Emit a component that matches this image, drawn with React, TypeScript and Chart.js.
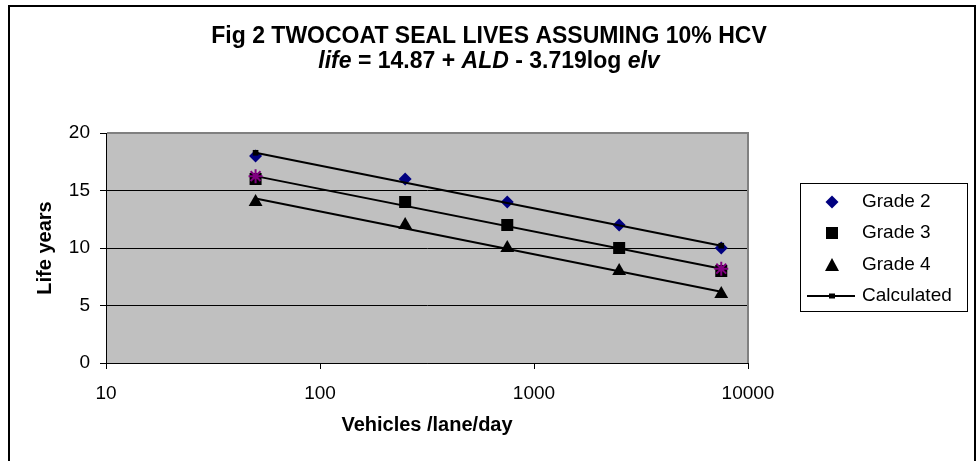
import React, { useEffect, useRef } from 'react';
import { Chart, registerables } from 'chart.js';

Chart.register(...registerables);

// ---- data ----
const vehicles = [50, 250, 750, 2500, 7500];
const grade2Life = [18, 16, 14, 12, 10];
const grade3Life = [16, 14, 12, 10, 8];
const grade4Life = [14, 12, 10, 8, 6];
const calcVehicles = [50, 7500];
const calcGrade2 = [18.28, 10.2];
const calcGrade3 = [16.25, 8.2];
const calcGrade4 = [14.3, 6.2];
const xTickValues = [10, 100, 1000, 10000];
const yTickValues = [0, 5, 10, 15, 20];
const seriesLabels = ['Grade 2', 'Grade 3', 'Grade 4', 'Calculated'];
const titleLine1 = 'Fig 2 TWOCOAT SEAL LIVES ASSUMING 10% HCV';
const titleLine2 = [
  { text: 'life', italic: true },
  { text: ' = 14.87 + ', italic: false },
  { text: 'ALD', italic: true },
  { text: ' - 3.719log ', italic: false },
  { text: 'elv', italic: true },
];
const xTitle = 'Vehicles /lane/day';
const yTitle = 'Life years';

const FONT = '"Liberation Sans", Arial, sans-serif';

const pts = (xs: number[], ys: number[]) => xs.map((x, i) => ({ x, y: ys[i] }));

const framePlugin = {
  id: 'frame',
  beforeDraw(chart: any) {
    const { ctx, chartArea: a } = chart;
    ctx.save();
    ctx.fillStyle = '#ffffff';
    ctx.fillRect(0, 0, chart.width, chart.height);
    ctx.fillStyle = '#C0C0C0';
    ctx.fillRect(a.left, a.top, a.right - a.left, a.bottom - a.top);
    ctx.restore();
  },
  beforeDatasetsDraw(chart: any) {
    const { ctx, chartArea: a } = chart;
    ctx.save();
    ctx.strokeStyle = '#808080';
    ctx.lineWidth = 2;
    ctx.beginPath();
    ctx.moveTo(a.left + 1, a.top);
    ctx.lineTo(a.right, a.top);
    ctx.lineTo(a.right, a.bottom);
    ctx.stroke();
    ctx.restore();
  },
  afterDraw(chart: any) {
    const { ctx } = chart;
    ctx.save();
    // outer border
    ctx.strokeStyle = '#000';
    ctx.lineWidth = 2;
    ctx.strokeRect(9, 6, 966, 480);

    // title
    ctx.fillStyle = '#000';
    ctx.textBaseline = 'middle';
    ctx.textAlign = 'left';
    const cx = chart.width / 2;
    ctx.font = `bold 23px ${FONT}`;
    const w1 = ctx.measureText(titleLine1).width;
    ctx.fillText(titleLine1, cx - w1 / 2, 37);
    const fontFor = (it: boolean) => `${it ? 'italic ' : ''}bold 23px ${FONT}`;
    let total = 0;
    for (const s of titleLine2) {
      ctx.font = fontFor(s.italic);
      total += ctx.measureText(s.text).width;
    }
    let x = cx - total / 2;
    for (const s of titleLine2) {
      ctx.font = fontFor(s.italic);
      ctx.fillText(s.text, x, 62);
      x += ctx.measureText(s.text).width;
    }

    // legend
    ctx.lineWidth = 1;
    ctx.strokeStyle = '#000';
    ctx.fillStyle = '#fff';
    ctx.fillRect(800.5, 183.5, 167, 128);
    ctx.strokeRect(800.5, 183.5, 167, 128);
    const rows = [202, 233, 265, 296];
    const mx = 832;
    ctx.font = `19px ${FONT}`;
    const legendSets = chart.data.datasets.filter((d: any) => d.inLegend);
    legendSets.forEach((d: any, i: number) => {
      const y = rows[i];
      ctx.fillStyle = d.backgroundColor;
      ctx.strokeStyle = d.borderColor;
      ctx.beginPath();
      if (d.pointStyle === 'rectRot') {
        ctx.moveTo(mx, y - 6.5);
        ctx.lineTo(mx + 6.5, y);
        ctx.lineTo(mx, y + 6.5);
        ctx.lineTo(mx - 6.5, y);
        ctx.closePath();
        ctx.fill();
      } else if (d.pointStyle === 'rect' && !d.showLine) {
        ctx.fillRect(mx - 6, y - 6, 12, 12);
      } else if (d.pointStyle === 'triangle') {
        ctx.moveTo(mx, y - 7);
        ctx.lineTo(mx + 7, y + 6);
        ctx.lineTo(mx - 7, y + 6);
        ctx.closePath();
        ctx.fill();
      } else {
        ctx.lineWidth = 2;
        ctx.moveTo(807, y);
        ctx.lineTo(855, y);
        ctx.stroke();
        ctx.fillStyle = '#000';
        ctx.fillRect(mx - 3, y - 2.5, 6, 5);
      }
      ctx.fillStyle = '#000';
      ctx.fillText(d.label, 862, y);
    });
    ctx.restore();
  },
};

export default function App() {
  const ref = useRef<HTMLCanvasElement | null>(null);
  useEffect(() => {
    if (!ref.current) return;
    const chart = new Chart(ref.current, {
      type: 'scatter',
      data: {
        datasets: [
          {
            label: seriesLabels[0],
            inLegend: true,
            data: pts(vehicles, grade2Life),
            pointStyle: 'rectRot',
            pointRadius: 6.5,
            backgroundColor: '#000080',
            borderColor: '#000080',
            borderWidth: 0,
            order: 1,
          } as any,
          {
            label: seriesLabels[1],
            inLegend: true,
            data: pts(vehicles, grade3Life),
            pointStyle: 'rect',
            pointRadius: 8.5,
            backgroundColor: '#000',
            borderColor: '#000',
            borderWidth: 0,
            order: 1,
          } as any,
          {
            label: seriesLabels[2],
            inLegend: true,
            data: pts(vehicles, grade4Life),
            pointStyle: 'triangle',
            pointRadius: 8,
            backgroundColor: '#000',
            borderColor: '#000',
            borderWidth: 0,
            order: 1,
          } as any,
          {
            label: seriesLabels[3],
            inLegend: true,
            data: pts(calcVehicles, calcGrade2),
            showLine: true,
            borderColor: '#000',
            backgroundColor: '#000',
            borderWidth: 2,
            pointStyle: 'rect',
            pointRadius: 4,
            pointBorderWidth: 0,
            order: 0,
          } as any,
          {
            label: 'Calculated Grade 3',
            data: pts(calcVehicles, calcGrade3),
            showLine: true,
            borderColor: '#000',
            backgroundColor: '#000',
            borderWidth: 2,
            pointStyle: 'star',
            pointRadius: 7,
            pointBorderColor: '#800080',
            pointBorderWidth: 2,
            order: 0,
          } as any,
          {
            label: 'Calculated Grade 4',
            data: pts(calcVehicles, calcGrade4),
            showLine: true,
            borderColor: '#000',
            backgroundColor: '#000',
            borderWidth: 2,
            pointRadius: 0,
            order: 0,
          } as any,
        ],
      },
      options: {
        animation: false,
        responsive: false,
        devicePixelRatio: 1,
        events: [],
        layout: { padding: { left: 9, right: 230, top: 133, bottom: 0 } },
        plugins: {
          legend: { display: false },
          title: { display: false },
          tooltip: { enabled: false },
        },
        scales: {
          x: {
            type: 'logarithmic',
            min: 10,
            max: 10000,
            afterBuildTicks: (s: any) => {
              s.ticks = xTickValues.map((v) => ({ value: v }));
            },
            afterFit: (s: any) => {
              s.height = 98;
            },
            ticks: {
              autoSkip: false,
              maxRotation: 0,
              padding: 13,
              color: '#000',
              font: { family: FONT, size: 19 },
              callback: (v: any) => String(v),
            },
            grid: {
              drawOnChartArea: false,
              drawTicks: true,
              tickLength: 6,
              tickColor: '#000',
            },
            border: { color: '#000', width: 1 },
            title: {
              display: true,
              text: xTitle,
              color: '#000',
              font: { family: FONT, size: 20, weight: 'bold' },
              padding: { top: 0, bottom: 24 },
            },
          },
          y: {
            type: 'linear',
            min: 0,
            max: 20,
            afterBuildTicks: (s: any) => {
              s.ticks = yTickValues.map((v) => ({ value: v }));
            },
            afterFit: (s: any) => {
              s.width = 97;
            },
            ticks: {
              padding: 10,
              color: '#000',
              font: { family: FONT, size: 19 },
            },
            grid: {
              color: (c: any) => (c.tick && c.tick.value === 20 ? 'rgba(0,0,0,0)' : '#000'),
              tickColor: '#000',
              tickLength: 6,
              lineWidth: 1,
            },
            border: { color: '#000', width: 1 },
            title: {
              display: true,
              text: yTitle,
              color: '#000',
              font: { family: FONT, size: 20, weight: 'bold' },
              padding: { top: 24, bottom: 0 },
            },
          },
        },
      } as any,
      plugins: [framePlugin],
    });
    return () => chart.destroy();
  }, []);
  return (
    <div style={{ position: 'absolute', left: 0, top: 0, width: 978, height: 461 }}>
      <canvas ref={ref} width={978} height={461} style={{ display: 'block', width: 978, height: 461 }} />
    </div>
  );
}
